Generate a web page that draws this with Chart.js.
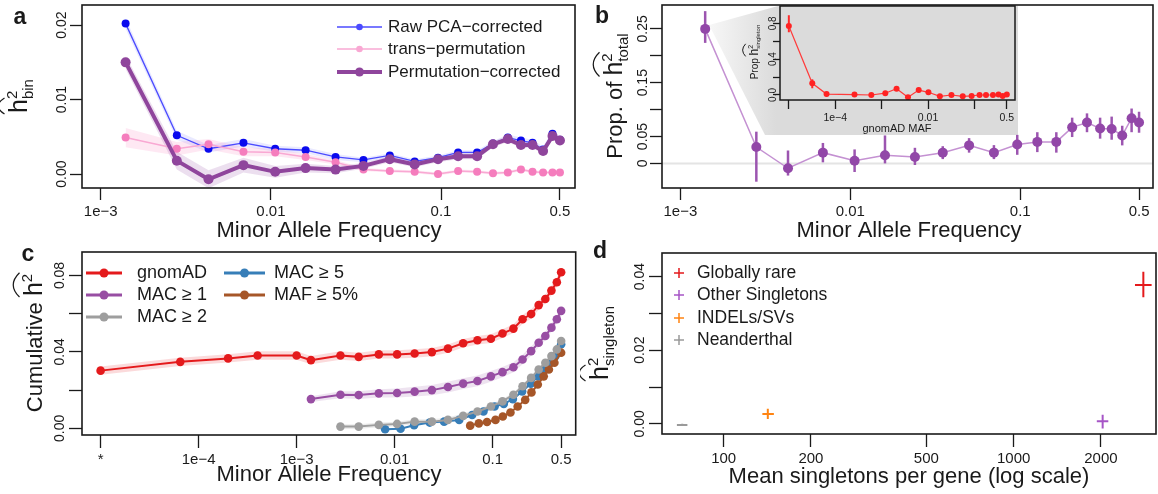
<!DOCTYPE html>
<html>
<head>
<meta charset="utf-8">
<script src="https://cdn.jsdelivr.net/npm/chart.js@4.4.1/dist/chart.umd.min.js"></script>
<style>
  body { margin: 0; background: #fff; }
  #fig { position: relative; width: 1158px; height: 494px; overflow: hidden; }
  canvas { position: absolute; }
</style>
</head>
<body>
<div id="fig">
  <canvas id="cA" width="580" height="245" style="left:0;top:0"></canvas>
  <canvas id="cB" width="578" height="245" style="left:580px;top:0"></canvas>
  <canvas id="cInset" width="295" height="140" style="left:730px;top:0"></canvas>
  <canvas id="cC" width="580" height="262" style="left:0;top:232px"></canvas>
  <canvas id="cD" width="578" height="262" style="left:580px;top:232px"></canvas>
</div>
<script>
var FONT = "'Liberation Sans', Arial, Helvetica, sans-serif";
var INK = "#1a1a1a";
Chart.defaults.font.family = FONT;
Chart.defaults.color = INK;

// ---- data ----
var mafBins = [0.0014, 0.0028, 0.0043, 0.0069, 0.0106, 0.016, 0.024, 0.035, 0.05, 0.07,
               0.096, 0.126, 0.163, 0.202, 0.247, 0.295, 0.345, 0.398, 0.452, 0.5];

// panel a
var rawPCA    = [0.0202, 0.0052, 0.0034, 0.0042, 0.0034, 0.0032, 0.0023, 0.0019, 0.0025, 0.0017,
                 0.0022, 0.0029, 0.0029, 0.0041, 0.0049, 0.0045, 0.0042, 0.0033, 0.0054, 0.0046];
var rawPCAci  = [0.0007, 0.0006, 0.0005, 0.0005, 0.0004, 0.0004, 0.0004, 0.0003, 0.0003, 0.0003,
                 0.0003, 0.0003, 0.0003, 0.0003, 0.0004, 0.0004, 0.0004, 0.0004, 0.0005, 0.0004];
var transPerm = [0.0049, 0.0034, 0.0040, 0.0030, 0.0029, 0.0023, 0.0016, 0.0006, 0.0004, 0.0003,
                 0.0000, 0.0004, 0.0003, 0.0001, 0.0002, 0.0006, 0.0003, 0.0002, 0.0002, 0.0002];
var transCi   = [0.0013, 0.0009, 0.0007, 0.0006, 0.0005, 0.0004, 0.0003, 0.0002, 0.0002, 0.0002,
                 0.0002, 0.0002, 0.0002, 0.0002, 0.0002, 0.0002, 0.0002, 0.0002, 0.0002, 0.0002];
var permCorr  = [0.0150, 0.0018, -0.0007, 0.0012, 0.0003, 0.0008, 0.0006, 0.0011, 0.0020, 0.0013,
                 0.0020, 0.0024, 0.0024, 0.0040, 0.0047, 0.0039, 0.0039, 0.0031, 0.0051, 0.0045];
var permCi    = [0.0009, 0.0012, 0.0012, 0.0010, 0.0008, 0.0006, 0.0005, 0.0004, 0.0004, 0.0004,
                 0.0004, 0.0004, 0.0004, 0.0004, 0.0004, 0.0004, 0.0004, 0.0004, 0.0005, 0.0004];

// panel b
var propTotal = [0.25, 0.0305, -0.009, 0.020, 0.005, 0.015, 0.012, 0.020, 0.0335, 0.020,
                 0.035, 0.040, 0.040, 0.067, 0.076, 0.065, 0.064, 0.052, 0.084, 0.076];
var propLo    = [0.224, -0.034, -0.0226, 0.002, -0.016, 0.0, -0.003, 0.008, 0.020, 0.008,
                 0.016, 0.021, 0.020, 0.049, 0.058, 0.046, 0.044, 0.0335, 0.058, 0.057];
var propHi    = [0.283, 0.059, 0.024, 0.038, 0.026, 0.052, 0.029, 0.032, 0.047, 0.034,
                 0.053, 0.058, 0.058, 0.085, 0.093, 0.085, 0.087, 0.070, 0.102, 0.096];

// panel b inset
var insetMaf = [1e-5, 3.2e-5, 6.5e-5, 2.6e-4, 6e-4, 1.2e-3, 2.1e-3, 3.7e-3, 6.3e-3, 0.0102,
                0.018, 0.032, 0.056, 0.087, 0.129, 0.178, 0.251, 0.331, 0.407, 0.5];
var insetVal = [0.77, 0.13, 0.01, 0.005, 0.0, 0.02, 0.07, -0.025, 0.055, 0.03,
                -0.015, 0.0, -0.015, -0.01, 0.0, 0.0, 0.0, 0.005, -0.01, 0.005];
var insetLo  = [0.70, 0.075, -0.015, -0.018, -0.02, -0.005, 0.045, -0.045, 0.03, 0.008,
                -0.035, -0.02, -0.035, -0.028, -0.018, -0.016, -0.015, -0.01, -0.025, -0.01];
var insetHi  = [0.89, 0.175, 0.035, 0.025, 0.02, 0.045, 0.095, -0.005, 0.08, 0.052,
                0.005, 0.02, 0.005, 0.008, 0.018, 0.016, 0.015, 0.02, 0.005, 0.02];

// panel c
var gnomadMaf = [1e-5, 6.5e-5, 2e-4, 4e-4, 1e-3].concat(mafBins);
var gnomadCum = [0.0302, 0.0348, 0.0366, 0.0381, 0.0381, 0.0357, 0.0381, 0.0374, 0.0387, 0.0387,
                 0.0392, 0.0399, 0.0417, 0.0445, 0.0461, 0.0469, 0.0496, 0.0522, 0.0571, 0.0598,
                 0.0645, 0.0677, 0.0721, 0.0765, 0.0817];
var gnomadCi  = [0.0022, 0.0022, 0.0022, 0.0022, 0.0022, 0.0022, 0.0022, 0.0022, 0.0022, 0.0022,
                 0.0022, 0.0022, 0.0022, 0.0022, 0.0022, 0.0023, 0.0023, 0.0023, 0.0023, 0.0024,
                 0.0024, 0.0024, 0.0025, 0.0025, 0.0025];
var mac1Cum   = [0.0153, 0.0176, 0.0174, 0.0183, 0.0185, 0.0192, 0.0200, 0.0216, 0.0234, 0.0248,
                 0.0272, 0.0294, 0.0320, 0.0360, 0.0404, 0.0448, 0.0483, 0.0527, 0.0571, 0.0615];
var mac1Ci    = [0.0015, 0.0018, 0.0020, 0.0022, 0.0024, 0.0026, 0.0027, 0.0028, 0.0028, 0.0028,
                 0.0028, 0.0027, 0.0026, 0.0025, 0.0024, 0.0023, 0.0022, 0.0022, 0.0022, 0.0022];
var mac2Maf   = mafBins.slice(1);
var mac2Cum   = [0.0009, 0.0009, 0.0018, 0.0023, 0.0035, 0.0035, 0.0044, 0.0065, 0.0088, 0.0114,
                 0.0141, 0.0176, 0.0220, 0.0264, 0.0308, 0.0343, 0.0378, 0.0413, 0.0457];
var mac2Ci    = [0.0012, 0.0012, 0.0012, 0.0012, 0.0012, 0.0012, 0.0012, 0.0012, 0.0012, 0.0012,
                 0.0012, 0.0012, 0.0012, 0.0012, 0.0012, 0.0012, 0.0012, 0.0012, 0.0012];
var mac5Maf   = [0.008, 0.0115, 0.0158, 0.0228, 0.032, 0.0456, 0.0618, 0.0806, 0.1047, 0.130,
                 0.161, 0.200, 0.245, 0.293, 0.346, 0.396, 0.437, 0.5];
var mac5Cum   = [-0.0005, -0.0002, 0.0016, 0.0030, 0.0035, 0.0044, 0.0070, 0.0088, 0.0114, 0.0128,
                 0.0153, 0.0193, 0.0234, 0.0272, 0.0311, 0.0346, 0.0378, 0.0440];
var maf5Maf   = [0.059, 0.0723, 0.0876, 0.107, 0.127, 0.152, 0.18, 0.215, 0.249, 0.289,
                 0.332, 0.375, 0.427, 0.5];
var maf5Cum   = [0.0014, 0.0026, 0.0033, 0.0044, 0.0062, 0.0083, 0.0114, 0.0149, 0.0188, 0.0229,
                 0.0272, 0.0308, 0.0343, 0.0396];

// panel d
var dLabels = ["Globally rare", "Other Singletons", "INDELs/SVs", "Neanderthal"];
var dColors = ["#e41a1c", "#a655c6", "#ff8412", "#9a9a9a"];
var dMean   = [2800, 2027, 142, 72];
var dMeanLo = [2620, 1935, 136, 69];
var dMeanHi = [2990, 2120, 149, 75];
var dH2     = [0.0377, 0.0007, 0.0027, -0.0003];
var dH2Lo   = [0.0344, -0.0013, 0.0013, -0.0006];
var dH2Hi   = [0.0413, 0.0025, 0.0041, 0.0000];

// ---- helpers ----
function pts(xs, ys, shift, sign) {
  return xs.map(function (x, i) { return { x: x, y: ys[i] + (shift ? sign * shift[i] : 0) }; });
}
function band(xs, ys, ci, color, order) {
  return [
    { data: pts(xs, ys, ci, 1), borderColor: "transparent", borderWidth: 0, pointRadius: 0, fill: false, order: order },
    { data: pts(xs, ys, ci, -1), borderColor: "transparent", borderWidth: 0, pointRadius: 0, fill: "-1", backgroundColor: color, order: order }
  ];
}
function series(xs, ys, color, lineColor, lw, r, order) {
  return { data: pts(xs, ys), borderColor: lineColor, borderWidth: lw, pointRadius: r,
           pointBackgroundColor: color, pointBorderWidth: 0, fill: false, order: order };
}
function xAxis(type, min, max, ticks, labels, h, tl, fs) {
  return {
    type: type, min: min, max: max,
    afterBuildTicks: function (s) { s.ticks = ticks.map(function (v) { return { value: v }; }); },
    afterFit: function (s) { s.height = h; },
    ticks: { autoSkip: false, maxRotation: 0, minRotation: 0, padding: 3, color: INK,
             font: { size: fs }, callback: function (v, i) { return labels[i]; } },
    grid: { drawOnChartArea: false, drawTicks: true, tickLength: tl, tickColor: INK, tickWidth: 1.3 },
    border: { display: false }
  };
}
function yAxis(min, max, ticks, w, tl) {
  return {
    type: "linear", min: min, max: max,
    afterBuildTicks: function (s) { s.ticks = ticks.map(function (v) { return { value: v }; }); },
    afterFit: function (s) { s.width = w; },
    ticks: { display: false },
    grid: { drawOnChartArea: false, drawTicks: true, tickLength: tl, tickColor: INK, tickWidth: 1.3 },
    border: { display: false }
  };
}
// rotated math label: parts = [text, size, raise, stackOnPrevious]
function yTitle(ctx, cx, cy, parts, hatFrom, hatTo) {
  ctx.save();
  ctx.translate(cx, cy);
  ctx.rotate(-Math.PI / 2);
  var pos = [], x = 0, prev = 0;
  parts.forEach(function (p) {
    ctx.font = p[1] + "px " + FONT;
    var w = ctx.measureText(p[0]).width;
    var s = p[3] ? prev : x;
    pos.push([s, w]);
    prev = s;
    x = Math.max(x, s + w);
  });
  var off = -x / 2;
  ctx.fillStyle = INK;
  ctx.textAlign = "left";
  ctx.textBaseline = "alphabetic";
  parts.forEach(function (p, i) {
    ctx.font = p[1] + "px " + FONT;
    ctx.fillText(p[0], off + pos[i][0], -(p[2] || 0));
  });
  if (hatFrom != null) {
    var sz = parts[hatFrom][1];
    var x1 = off + pos[hatFrom][0] - 1, x2 = off + pos[hatTo][0] + pos[hatTo][1] + 1;
    var hy = -(sz * 0.78 + 3);
    ctx.strokeStyle = INK;
    ctx.lineWidth = Math.max(1, sz / 20);
    ctx.beginPath();
    ctx.moveTo(x1, hy);
    ctx.quadraticCurveTo((x1 + x2) / 2, hy - sz * 0.5, x2, hy);
    ctx.stroke();
  }
  ctx.restore();
}
function text(ctx, t, x, y, size, opts) {
  opts = opts || {};
  ctx.save();
  ctx.fillStyle = opts.color || INK;
  ctx.font = (opts.bold ? "bold " : "") + size + "px " + FONT;
  ctx.textAlign = opts.align || "left";
  ctx.textBaseline = opts.base || "middle";
  ctx.fillText(t, x, y);
  ctx.restore();
}
function rotTicks(chart, list, x, size) {
  var ctx = chart.ctx, ys = chart.scales.y;
  list.forEach(function (t) {
    ctx.save();
    ctx.translate(x, ys.getPixelForValue(t[0]));
    ctx.rotate(-Math.PI / 2);
    ctx.font = size + "px " + FONT;
    ctx.fillStyle = INK;
    ctx.textAlign = "center";
    ctx.textBaseline = "middle";
    ctx.fillText(t[1], 0, 0);
    ctx.restore();
  });
}
function frame(chart, lw) {
  var a = chart.chartArea, ctx = chart.ctx;
  ctx.save();
  ctx.strokeStyle = INK;
  ctx.lineWidth = lw;
  ctx.strokeRect(a.left, a.top, a.right - a.left, a.bottom - a.top);
  ctx.restore();
}
function vBars(chart, xs, lo, hi, color, lw) {
  var ctx = chart.ctx, sx = chart.scales.x, sy = chart.scales.y;
  ctx.save();
  ctx.strokeStyle = color;
  ctx.lineWidth = lw;
  xs.forEach(function (x, i) {
    var px = sx.getPixelForValue(x);
    ctx.beginPath();
    ctx.moveTo(px, sy.getPixelForValue(lo[i]));
    ctx.lineTo(px, sy.getPixelForValue(hi[i]));
    ctx.stroke();
  });
  ctx.restore();
}
function legendRow(ctx, x1, x2, y, color, lw, r, label, fs, tx) {
  ctx.save();
  ctx.strokeStyle = color;
  ctx.lineWidth = lw;
  ctx.beginPath(); ctx.moveTo(x1, y); ctx.lineTo(x2, y); ctx.stroke();
  ctx.fillStyle = color;
  ctx.beginPath(); ctx.arc((x1 + x2) / 2, y, r, 0, Math.PI * 2); ctx.fill();
  ctx.restore();
  text(ctx, label, tx, y, fs);
}
function makeChart(id, datasets, pad, x, y, deco) {
  return new Chart(document.getElementById(id), {
    type: "line",
    data: { datasets: datasets },
    options: {
      responsive: false, animation: false, devicePixelRatio: 1,
      layout: { padding: pad },
      plugins: { legend: { display: false }, tooltip: { enabled: false } },
      elements: { line: { tension: 0 }, point: { hoverRadius: 0 } },
      scales: { x: x, y: y }
    },
    plugins: [deco]
  });
}

var mafTicks = [1e-3, 0.01, 0.1, 0.5], mafLabels = ["1e\u22123", "0.01", "0.1", "0.5"];

// ---- panel a ----
makeChart("cA",
  [series(mafBins, permCorr, "#8f459c", "#8f459c", 4, 5, 0),
   series(mafBins, transPerm, "#f57dbd", "#f9a8d3", 1.5, 4, 1),
   series(mafBins, rawPCA, "#0a0aee", "#4b4bff", 1.3, 4, 2)]
    .concat(band(mafBins, permCorr, permCi, "rgba(150,80,165,0.18)", 5))
    .concat(band(mafBins, transPerm, transCi, "rgba(247,129,191,0.18)", 6))
    .concat(band(mafBins, rawPCA, rawPCAci, "rgba(70,70,255,0.12)", 7)),
  { left: 0, right: 4, top: 4, bottom: 0 },
  xAxis("logarithmic", 0.000776, 0.613, mafTicks, mafLabels, 57, 12, 15),
  yAxis(-0.00187, 0.0227, [0, 0.01, 0.02], 82, 12),
  { id: "decoA", afterDraw: function (c) {
      var ctx = c.ctx;
      frame(c, 1.6);
      rotTicks(c, [[0, "0.00"], [0.01, "0.01"], [0.02, "0.02"]], 62, 14);
      yTitle(ctx, 27, 96, [["h", 25, 0], ["2", 15, 10], ["bin", 15, -6, true]], 0, 0);
      text(ctx, "Minor Allele Frequency", 329, 237, 22, { align: "center", base: "alphabetic" });
      text(ctx, "a", 20, 18, 23, { align: "center", bold: true });
      legendRow(ctx, 337, 382, 27, "#4b4bff", 1.3, 3.3, "Raw PCA\u2212corrected", 17, 388);
      legendRow(ctx, 337, 382, 49, "#f9a8d3", 1.5, 3.3, "trans\u2212permutation", 17, 388);
      legendRow(ctx, 337, 382, 72, "#8f459c", 4, 4.5, "Permutation\u2212corrected", 17, 388);
  } });

// ---- panel b ----
var INSET = { left: 780, top: 6, right: 1015, bottom: 100 };
makeChart("cB",
  [series(mafBins, propTotal, "#9247a8", "#c491d2", 1.5, 5, 0)],
  { left: 0, right: 2, top: 4, bottom: 0 },
  xAxis("logarithmic", 0.00078, 0.604, mafTicks, mafLabels, 57, 12, 15),
  yAxis(-0.0457, 0.2944, [0, 0.05, 0.1, 0.15, 0.2, 0.25], 82, 12),
  { id: "decoB",
    beforeDatasetsDraw: function (c) {
      var ctx = c.ctx, a = c.chartArea, sx = c.scales.x, sy = c.scales.y;
      // zero reference line
      ctx.save();
      ctx.strokeStyle = "#e4e4e4"; ctx.lineWidth = 2;
      ctx.beginPath(); ctx.moveTo(a.left, sy.getPixelForValue(0)); ctx.lineTo(a.right, sy.getPixelForValue(0)); ctx.stroke();
      // zoom callout behind the inset
      var px = sx.getPixelForValue(mafBins[0]) + 4, py = sy.getPixelForValue(propTotal[0]) - 4;
      var L = INSET.left - 580, R = INSET.right - 580 + 3;
      var g = ctx.createLinearGradient(px, 0, L - 4, 0);
      g.addColorStop(0, "#f7f7f7"); g.addColorStop(1, "#dbdbdb");
      ctx.fillStyle = g;
      ctx.beginPath();
      ctx.moveTo(px, py); ctx.lineTo(L - 2, a.top + 1); ctx.lineTo(R, a.top + 1);
      ctx.lineTo(R, 135); ctx.lineTo(L - 15, 135); ctx.closePath(); ctx.fill();
      ctx.restore();
      vBars(c, mafBins, propLo, propHi, "#9c55b0", 2.5);
    },
    afterDraw: function (c) {
      var ctx = c.ctx;
      frame(c, 1.6);
      rotTicks(c, [[0, "0"], [0.05, "0.05"], [0.15, "0.15"], [0.25, "0.25"]], 63, 14);
      yTitle(ctx, 42, 96, [["Prop. of ", 22, 0], ["h", 25, 0], ["2", 15, 10], ["total", 15, -6, true]], 1, 2);
      text(ctx, "Minor Allele Frequency", 329, 237, 22, { align: "center", base: "alphabetic" });
      text(ctx, "b", 22, 17, 23, { align: "center", bold: true });
  } });

// ---- panel b inset ----
makeChart("cInset",
  [series(insetMaf, insetVal, "#ff2222", "#ff3b3b", 1.2, 3, 0)],
  { left: 0, right: 10, top: 6, bottom: 0 },
  xAxis("logarithmic", 6.45e-6, 0.75, [1e-5, 1e-4, 1e-3, 0.01, 0.1, 0.5], ["", "1e\u22124", "", "0.01", "", "0.5"], 40, 9, 10.5),
  yAxis(-0.056, 0.993, [0, 0.2, 0.4, 0.6, 0.8], 50, 7),
  { id: "decoInset",
    beforeDatasetsDraw: function (c) { vBars(c, insetMaf, insetLo, insetHi, "#ff2a2a", 2); },
    afterDraw: function (c) {
      var ctx = c.ctx;
      frame(c, 1.5);
      rotTicks(c, [[0, "0.0"], [0.4, "0.4"], [0.8, "0.8"]], 43, 10);
      yTitle(ctx, 28, 52, [["Prop ", 10, 0], ["h", 12, 0], ["2", 7, 5], ["singleton", 6, -2, true]], 1, 2);
      text(ctx, "gnomAD MAF", 167, 129, 11, { align: "center" });
  } });

// ---- panel c ----
makeChart("cC",
  [series(gnomadMaf, gnomadCum, "#e41a1c", "#e41a1c", 2, 4.3, 0),
   series(mafBins, mac1Cum, "#984ea3", "#984ea3", 2, 4.3, 1),
   series(mac2Maf, mac2Cum, "#9e9e9e", "#9e9e9e", 2, 4.3, 2),
   series(maf5Maf, maf5Cum, "#a65628", "#a65628", 2, 4.3, 3),
   series(mac5Maf, mac5Cum, "#377eb8", "#377eb8", 2, 4.3, 4)]
    .concat(band(gnomadMaf, gnomadCum, gnomadCi, "rgba(228,26,28,0.16)", 6))
    .concat(band(mafBins, mac1Cum, mac1Ci, "rgba(152,78,163,0.16)", 7))
    .concat(band(mac2Maf, mac2Cum, mac2Ci, "rgba(150,150,150,0.18)", 8)),
  { left: 0, right: 4, top: 20, bottom: 0 },
  xAxis("logarithmic", 6.46e-6, 0.704, [1e-5, 1e-4, 1e-3, 0.01, 0.1, 0.5], ["*", "1e\u22124", "1e\u22123", "0.01", "0.1", "0.5"], 59, 13, 15),
  yAxis(-0.0035, 0.0923, [0, 0.02, 0.04, 0.06, 0.08], 82, 13),
  { id: "decoC", afterDraw: function (c) {
      var ctx = c.ctx;
      frame(c, 1.6);
      rotTicks(c, [[0, "0.00"], [0.04, "0.04"], [0.08, "0.08"]], 60, 14);
      yTitle(ctx, 42, 111, [["Cumulative ", 22, 0], ["h", 25, 0], ["2", 15, 10]], 1, 2);
      text(ctx, "Minor Allele Frequency", 329, 249, 22, { align: "center", base: "alphabetic" });
      text(ctx, "c", 28, 23, 23, { align: "center", bold: true });
      legendRow(ctx, 86, 122, 41, "#e41a1c", 3, 4.5, "gnomAD", 18, 137);
      legendRow(ctx, 86, 122, 63, "#984ea3", 3, 4.5, "MAC \u2265 1", 18, 137);
      legendRow(ctx, 86, 122, 85, "#9e9e9e", 3, 4.5, "MAC \u2265 2", 18, 137);
      legendRow(ctx, 224, 265, 41, "#377eb8", 3, 4.5, "MAC \u2265 5", 18, 274);
      legendRow(ctx, 224, 265, 63, "#a65628", 3, 4.5, "MAF \u2265 5%", 18, 274);
  } });

// ---- panel d ----
makeChart("cD",
  [{ data: pts(dMean, dH2), showLine: false, pointRadius: 0 }],
  { left: 0, right: 2, top: 21, bottom: 0 },
  xAxis("logarithmic", 61.3, 3096, [100, 200, 500, 1000, 2000], ["100", "200", "500", "1000", "2000"], 60, 13, 15),
  yAxis(-0.00276, 0.0464, [0, 0.01, 0.02, 0.03, 0.04], 82, 13),
  { id: "decoD",
    afterDatasetsDraw: function (c) {
      var ctx = c.ctx, sx = c.scales.x, sy = c.scales.y;
      ctx.save();
      ctx.lineWidth = 2;
      dMean.forEach(function (m, i) {
        var px = sx.getPixelForValue(m), py = sy.getPixelForValue(dH2[i]);
        ctx.strokeStyle = dColors[i];
        ctx.beginPath();
        ctx.moveTo(sx.getPixelForValue(dMeanLo[i]), py); ctx.lineTo(sx.getPixelForValue(dMeanHi[i]), py);
        ctx.moveTo(px, sy.getPixelForValue(dH2Lo[i])); ctx.lineTo(px, sy.getPixelForValue(dH2Hi[i]));
        ctx.stroke();
      });
      ctx.restore();
    },
    afterDraw: function (c) {
      var ctx = c.ctx;
      frame(c, 1.6);
      rotTicks(c, [[0, "0.00"], [0.02, "0.02"], [0.04, "0.04"]], 60, 14);
      yTitle(ctx, 28, 111, [["h", 25, 0], ["2", 15, 10], ["singleton", 15, -6, true]], 0, 0);
      text(ctx, "Mean singletons per gene (log scale)", 329, 251, 22, { align: "center", base: "alphabetic" });
      text(ctx, "d", 20, 20, 23, { align: "center", bold: true });
      dLabels.forEach(function (lab, i) {
        var y = [41, 63, 86, 108][i];
        ctx.save();
        ctx.strokeStyle = dColors[i]; ctx.lineWidth = 1.5;
        ctx.beginPath(); ctx.moveTo(94, y); ctx.lineTo(104, y); ctx.moveTo(99, y - 5); ctx.lineTo(99, y + 5); ctx.stroke();
        ctx.restore();
        text(ctx, lab, 117, y, 17.5);
      });
  } });
</script>
</body>
</html>
